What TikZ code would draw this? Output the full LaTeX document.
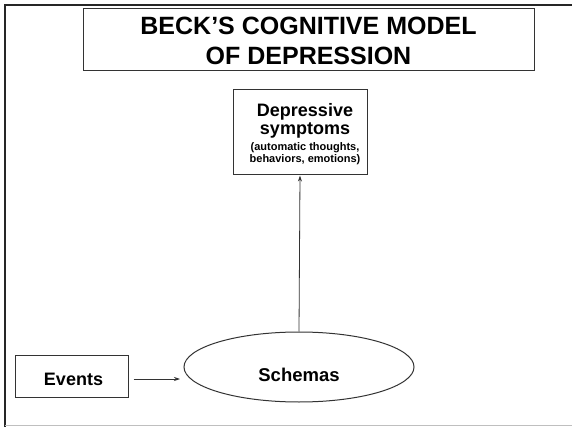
\documentclass[tikz,border=0pt]{standalone}
\usepackage{fontspec}
\setmainfont{Liberation Sans}
\usetikzlibrary{shapes.geometric,arrows.meta}
\begin{document}
\begin{tikzpicture}[x=1pt,y=-1pt,
  boxst/.style={draw=black!80,line width=1pt,inner sep=0pt},
  conn/.style={draw=black!80,line width=0.8pt,-{Stealth[length=6pt,width=4pt]}},
  txt/.style={inner sep=0pt,anchor=base,font=\bfseries}]
\useasboundingbox (0,0) rectangle (572,427);
\fill[white] (0,0) rectangle (572,427);
% frame
\draw[line width=2.2pt,black!85] (5,427) -- (5,5) -- (572,5);
\draw[line width=0.6pt,black!25] (5,425) -- (572,425);
% title
\node[boxst,minimum width=451pt,minimum height=62pt] (title) at (308.5,40) {};
\node[txt,font=\bfseries\fontsize{25}{30}\selectfont] (t1) at (308.5,35) {BECK’S COGNITIVE MODEL};
\node[txt,font=\bfseries\fontsize{25}{30}\selectfont] (t2) at (308.5,65) {OF DEPRESSION};
% symptoms box
\node[boxst,minimum width=134pt,minimum height=85pt] (sym) at (300,132.5) {};
\node[txt,font=\bfseries\fontsize{18}{18}\selectfont] (s1) at (305,117) {Depressive};
\node[txt,font=\bfseries\fontsize{18}{18}\selectfont] (s2) at (305,135) {symptoms};
\node[txt,font=\bfseries\fontsize{11}{12}\selectfont] (s3) at (305,151) {(automatic thoughts,};
\node[txt,font=\bfseries\fontsize{11}{12}\selectfont] (s4) at (305,163) {behaviors, emotions)};
% events
\node[boxst,minimum width=113pt,minimum height=42pt] (ev) at (71.5,376) {};
\node[txt,font=\bfseries\fontsize{18}{18}\selectfont] (evt) at (73.5,385) {Events};
% schemas
\node[draw=black!80,line width=1pt,ellipse,inner sep=0pt,minimum width=230pt,minimum height=70pt] (sch) at (299,367) {};
\node[txt,font=\bfseries\fontsize{18.5}{18.5}\selectfont] (scht) at (299,381) {Schemas};
% connectors
\coordinate (evtip) at (180,379);
\draw[conn] ([shift={(5,3)}]ev.east) -- (evtip);
\draw[conn] (sch.north) -- (sym.south);
\end{tikzpicture}
\end{document}
